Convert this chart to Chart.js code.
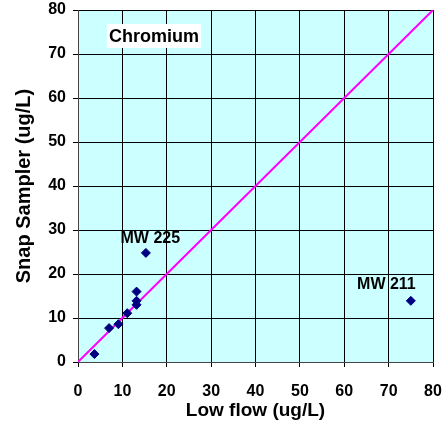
<!DOCTYPE html>
<html><head><meta charset="utf-8">
<script src="https://cdn.jsdelivr.net/npm/chart.js@4/dist/chart.umd.min.js"></script>
<style>html,body{margin:0;padding:0;background:#fff}#w{width:446px;height:425px}</style>
</head><body><div id="w"><canvas id="c"></canvas></div>
<script>
const lowFlow = [3.7, 7.0, 9.1, 11.1, 13.2, 13.2, 13.2, 15.3, 75];
const snapSampler = [1.8, 7.7, 8.6, 11.1, 13.0, 13.9, 16.0, 24.8, 13.9];
const oneToOne = [[0, 0], [80, 80]];
const ticks = [0, 10, 20, 30, 40, 50, 60, 70, 80];
const labels = [
  {text: 'MW 225', x: 16.3, y: 28},
  {text: 'MW 211', x: 69.5, y: 17.7}
];
const title = {text: 'Chromium', x: 17.1, y: 74.1};

const pts = lowFlow.map((v, i) => ({x: v, y: snapSampler[i]}));
const FONT = '"Liberation Sans", Arial, sans-serif';

const bgPlugin = {
  id: 'bg',
  beforeDraw(chart) {
    const {ctx, chartArea: a} = chart;
    ctx.save();
    ctx.fillStyle = '#CCFFFF';
    ctx.fillRect(a.left, a.top, a.right - a.left, a.bottom - a.top);
    ctx.restore();
  },
  afterDatasetsDraw(chart) {
    const {ctx, scales} = chart;
    ctx.save();
    ctx.font = 'bold 16px ' + FONT;
    ctx.textAlign = 'center';
    ctx.textBaseline = 'middle';
    ctx.fillStyle = '#000';
    labels.forEach(l => {
      ctx.fillText(l.text, scales.x.getPixelForValue(l.x), scales.y.getPixelForValue(l.y));
    });
    ctx.font = 'bold 18px ' + FONT;
    const tx = scales.x.getPixelForValue(title.x), ty = scales.y.getPixelForValue(title.y);
    const w = ctx.measureText(title.text).width;
    ctx.fillStyle = '#fff';
    ctx.fillRect(tx - w / 2 - 2, ty - 12, w + 4, 24);
    ctx.fillStyle = '#000';
    ctx.fillText(title.text, tx, ty + 1);
    ctx.restore();
  }
};

new Chart(document.getElementById('c'), {
  type: 'scatter',
  data: {
    datasets: [
      {
        type: 'line', data: oneToOne.map(p => ({x: p[0], y: p[1]})),
        borderColor: '#FF00FF', borderWidth: 2, pointRadius: 0, fill: false, order: 2
      },
      {
        data: pts, pointStyle: 'rectRot', pointRadius: 4.5,
        backgroundColor: '#000080', borderColor: '#000080', order: 1
      }
    ]
  },
  options: {
    responsive: true, maintainAspectRatio: false, animation: false,
    layout: {padding: 0},
    plugins: {legend: {display: false}, tooltip: {enabled: false}},
    scales: {
      x: {
        type: 'linear', min: 0, max: 80,
        afterBuildTicks: s => { s.ticks = ticks.map(v => ({value: v})); },
        afterFit: s => { s.height = 63; s.paddingRight = 13; s.paddingLeft = 0; },
        grid: {color: '#000', lineWidth: 1, tickLength: 5, tickColor: '#000'},
        border: {color: '#444', width: 1},
        ticks: {color: '#000', font: {family: FONT, size: 16, weight: 'bold'}, padding: 15, maxRotation: 0},
        title: {display: true, text: 'Low flow (ug/L)', color: '#000', font: {family: FONT, size: 19, weight: 'bold'}, padding: {top: 0, bottom: 3}}
      },
      y: {
        type: 'linear', min: 0, max: 80,
        afterBuildTicks: s => { s.ticks = ticks.map(v => ({value: v})); },
        afterFit: s => { s.width = 78; s.paddingTop = 10; s.paddingBottom = 0; },
        grid: {color: '#000', lineWidth: 1, tickLength: 5, tickColor: '#000'},
        border: {color: '#444', width: 1},
        ticks: {color: '#000', font: {family: FONT, size: 16, weight: 'bold'}, padding: 7},
        title: {display: true, text: 'Snap Sampler (ug/L)', color: '#000', font: {family: FONT, size: 20, weight: 'bold'}, padding: {top: 12, bottom: 0}}
      }
    }
  },
  plugins: [bgPlugin]
});
</script>
</body></html>
